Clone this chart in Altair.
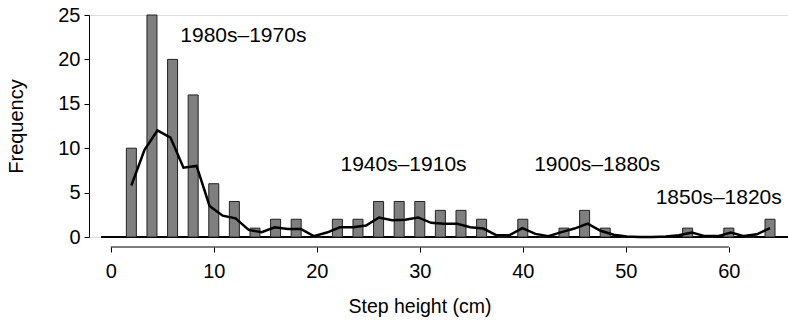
import altair as alt
import pandas as pd

# Histogram bars: step height (cm) and frequency
heights = [2, 4, 6, 8, 10, 12, 14, 16, 18, 20, 22, 24, 26, 28, 30, 32,
           34, 36, 38, 40, 42, 44, 46, 48, 50, 52, 54, 56, 58, 60, 62, 64]
freqs = [10, 25, 20, 16, 6, 4, 1, 2, 2, 0, 2, 2, 4, 4, 4, 3,
         3, 2, 0, 2, 0, 1, 3, 1, 0, 0, 0, 1, 0, 1, 0, 2]

# Smoothed trend line
line_x = [2.00, 3.27, 4.53, 5.80, 7.06, 8.33, 9.59, 10.86, 12.12, 13.39,
          14.65, 15.92, 17.18, 18.45, 19.71, 20.98, 22.24, 23.51, 24.78, 26.04,
          27.31, 28.57, 29.84, 31.10, 32.37, 33.63, 34.90, 36.16, 37.43, 38.69,
          39.96, 41.22, 42.49, 43.76, 45.02, 46.29, 47.55, 48.82, 50.08, 51.35,
          52.61, 53.88, 55.14, 56.41, 57.67, 58.94, 60.20, 61.47, 62.73, 64.00]
line_y = [5.8, 9.8, 12.0, 11.2, 7.8, 8.0, 3.5, 2.4, 2.1, 0.8,
          0.55, 1.1, 0.9, 0.9, 0.1, 0.5, 1.1, 1.1, 1.3, 2.2,
          1.9, 1.95, 2.2, 1.6, 1.5, 1.5, 1.1, 0.95, 0.2, 0.2,
          1.0, 0.35, 0.1, 0.55, 0.95, 1.5, 0.7, 0.25, 0.05, 0.0,
          0.0, 0.05, 0.2, 0.5, 0.1, 0.1, 0.5, 0.1, 0.3, 1.0]

# Period annotations
ann_labels = ["1980s\u20131970s", "1940s\u20131910s", "1900s\u20131880s", "1850s\u20131820s"]
ann_x = [6.75, 22.3, 41.1, 52.9]
ann_y = [22.6, 8.1, 8.1, 4.4]

x_ticks = [0, 10, 20, 30, 40, 50, 60]
y_ticks = [0, 5, 10, 15, 20, 25]

W, H = 699, 222
FONT = "Liberation Sans"

bars_df = pd.DataFrame({"h": heights, "f": freqs})
line_df = pd.DataFrame({"x": line_x, "y": line_y})
ann_df = pd.DataFrame({"x": ann_x, "y": ann_y, "label": ann_labels})
axis_df = pd.DataFrame({"a": [x_ticks[0]], "b": [x_ticks[-1]]})

xscale = alt.Scale(domain=[-1.627, 65.26], nice=False, zero=False)
yscale = alt.Scale(domain=[0, 25], nice=False)

bars = alt.Chart(bars_df).mark_bar(
    size=10, color="#7f7f7f", stroke="#222222", strokeWidth=1
).encode(
    x=alt.X("h:Q", scale=xscale, axis=alt.Axis(
        title="Step height (cm)", values=x_ticks, domain=False, grid=False,
        offset=10, tickSize=5, tickColor="black", labelPadding=9,
        labelFontSize=20, labelFont=FONT, labelColor="black",
        titleFont=FONT, titleFontSize=19.5, titleFontWeight="normal",
        titleColor="black", titleX=330.5, titleY=50)),
    y=alt.Y("f:Q", scale=yscale, axis=alt.Axis(
        title="Frequency", values=y_ticks, grid=False, domainColor="black",
        tickSize=5, tickColor="black", labelPadding=4,
        labelFontSize=20, labelFont=FONT, labelColor="black",
        titleFont=FONT, titleFontSize=20, titleFontWeight="normal",
        titleColor="black", titlePadding=31)),
)

baseline = alt.Chart(bars_df).mark_rule(color="black", strokeWidth=1).encode(
    y=alt.datum(0, scale=yscale), x=alt.value(12), x2=alt.value(W)
)

xaxis_line = alt.Chart(axis_df).mark_rule(color="black", strokeWidth=1).encode(
    x=alt.X("a:Q", scale=xscale), x2="b:Q", y=alt.value(H + 10)
)

trend = alt.Chart(line_df).mark_line(color="black", strokeWidth=2.5).encode(
    x=alt.X("x:Q", scale=xscale), y=alt.Y("y:Q", scale=yscale)
)

labels = alt.Chart(ann_df).mark_text(
    align="left", baseline="middle", font=FONT, fontSize=21, color="black"
).encode(
    x=alt.X("x:Q", scale=xscale), y=alt.Y("y:Q", scale=yscale), text="label:N"
)

chart = alt.layer(baseline, bars, trend, xaxis_line, labels).properties(
    width=W, height=H,
    padding={"left": 89, "top": 15, "right": 0, "bottom": 90},
    autosize=alt.AutoSizeParams(type="none"),
).configure_view(stroke=None).configure(background="white")

chart.save("out.html", embed_options={"renderer": "svg", "actions": False})
